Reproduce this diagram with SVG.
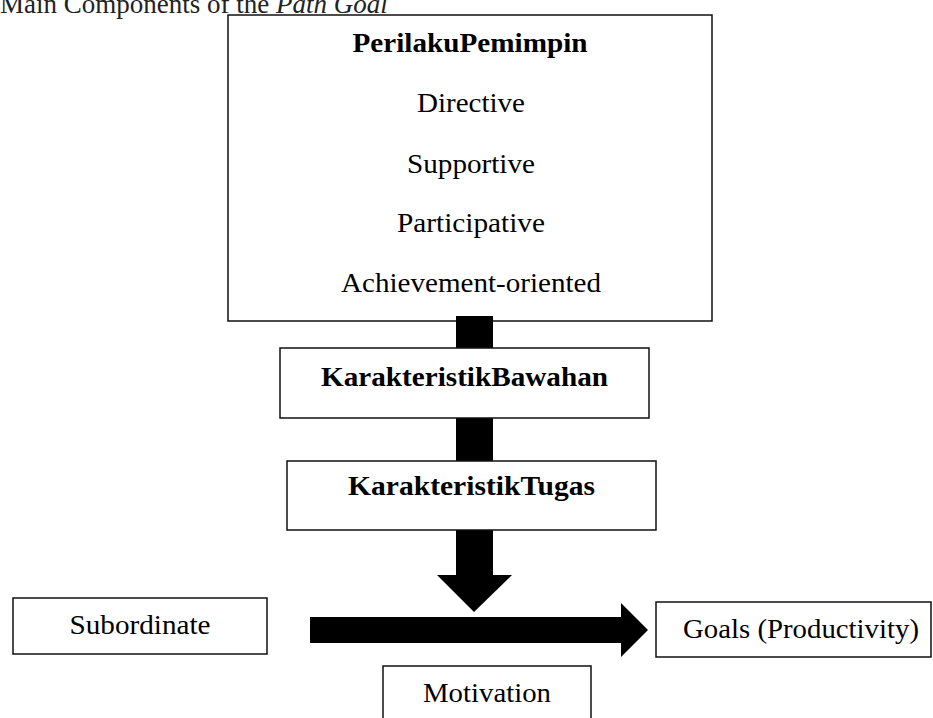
<svg xmlns="http://www.w3.org/2000/svg" width="933" height="718" viewBox="0 0 933 718">
<style>
.box{fill:#fff;stroke:#111;stroke-width:1.5}
.t{font-family:"Liberation Serif","Times New Roman",serif;font-size:27px;fill:#000;text-anchor:middle}
.b{font-weight:bold}
.bar{fill:#000}
</style>
<rect width="933" height="718" fill="#fff"/>
<text x="0" y="13" style="font-family:'Liberation Serif','Times New Roman',serif;font-size:27px;fill:#222">Main Components of the <tspan font-style="italic">Path Goal</tspan></text>
<g id="perilaku">
<rect class="box" x="228" y="15" width="484" height="306"/>
<text class="t b" x="470" y="52" textLength="235" lengthAdjust="spacingAndGlyphs">PerilakuPemimpin</text>
<text class="t" x="471" y="112" textLength="108" lengthAdjust="spacingAndGlyphs">Directive</text>
<text class="t" x="471" y="173" textLength="128" lengthAdjust="spacingAndGlyphs">Supportive</text>
<text class="t" x="471" y="232" textLength="148" lengthAdjust="spacingAndGlyphs">Participative</text>
<text class="t" x="471" y="292" textLength="260" lengthAdjust="spacingAndGlyphs">Achievement-oriented</text>
</g>
<g id="connectors">
<rect class="bar" x="456" y="316" width="37" height="32"/>
<rect class="bar" x="456" y="418" width="37" height="43"/>
<polygon class="bar" points="456,530 493,530 493,575 512,575 474,612 437,575 456,575"/>
<polygon class="bar" points="310,617 621,617 621,603 648,630 621,657 621,643 310,643"/>
</g>
<g id="bawahan">
<rect class="box" x="280" y="348" width="369" height="70"/>
<text class="t b" x="464.5" y="386" textLength="287" lengthAdjust="spacingAndGlyphs">KarakteristikBawahan</text>
</g>
<g id="tugas">
<rect class="box" x="287" y="461" width="369" height="69"/>
<text class="t b" x="471.5" y="495" textLength="247" lengthAdjust="spacingAndGlyphs">KarakteristikTugas</text>
</g>
<g id="subordinate">
<rect class="box" x="13" y="598" width="254" height="56"/>
<text class="t" x="140" y="634" textLength="141" lengthAdjust="spacingAndGlyphs">Subordinate</text>
</g>
<g id="goals">
<rect class="box" x="656" y="602" width="275" height="55"/>
<text class="t" x="801" y="638" textLength="236" lengthAdjust="spacingAndGlyphs">Goals (Productivity)</text>
</g>
<g id="motivation">
<rect class="box" x="383" y="666" width="208" height="70"/>
<text class="t" x="487" y="702" textLength="128" lengthAdjust="spacingAndGlyphs">Motivation</text>
</g>
</svg>
